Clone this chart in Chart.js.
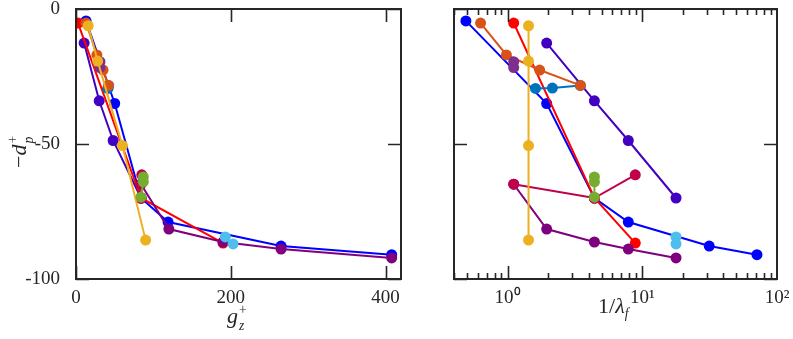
<!DOCTYPE html>
<html>
<head>
<meta charset="utf-8">
<script src="https://cdn.jsdelivr.net/npm/chart.js@4"></script>
<style>
  html, body { margin: 0; padding: 0; background: #fff; }
  #wrap { position: relative; width: 793px; height: 339px; overflow: hidden; }
  canvas { position: absolute; left: 0; top: 0; }
  .lab { position: absolute; font-family: "Liberation Serif", serif; color: #262626; font-size: 22px; white-space: nowrap; line-height: 1; }
  .ss { display: inline-flex; flex-direction: column; vertical-align: middle; font-size: 0.62em; line-height: 1.2; font-style: normal; margin-left: 1px; }
  .ss i { font-style: italic; }
</style>
</head>
<body>
<div id="wrap">
  <canvas id="left" width="793" height="339"></canvas>
  <canvas id="right" width="793" height="339"></canvas>
  <div class="lab" style="left:227px; top:302px;"><i>g</i><span class="ss"><span>+</span><i>z</i></span></div>
  <div class="lab" style="left:598px; top:295px;">1/<i>λ</i><sub style="font-size:0.62em;"><i>f</i></sub></div>
  <div class="lab" style="left:5px; top:168px; transform: rotate(-90deg); transform-origin: 0 0;">−<i>d</i><span class="ss"><span>+</span><i>p</i></span></div>
</div>
<script>
// depth -d_p^+ (shared y values), g_z^+ (left x), 1/lambda_f (right x)
const blueDp = [-4.4, -35, -70, -78.9, -87.8, -91];
const blueGz = [13, 50, 84, 119, 265, 408];
const blueInvLam = [0.49, 1.95, 4.41, 7.87, 31.4, 71];

const redDp = [-5.2, -70, -86.7];
const redGz = [2.6, 84, 190];
const redInvLam = [1.11, 4.41, 8.87];

const indigoDp = [-12.6, -34, -48.7, -70];
const indigoGz = [10.5, 30, 48, 84];
const indigoInvLam = [1.95, 4.41, 7.87, 17.8];

const orangeDp = [-5.2, -17, -22.6, -28.3];
const orangeGz = [13, 27, 35, 42];
const orangeInvLam = [0.63, 0.98, 1.73, 3.47];

const steelDp = [-29.4, -29.3, -28.3];
const steelGz = [41, 41.5, 42];
const steelInvLam = [1.61, 2.15, 3.47];

const yellowDp = [-6.2, -19.3, -50.6, -85.6];
const yellowGz = [15.7, 28, 60, 90];
const yellowInvLam = [1.43, 1.43, 1.43, 1.43];

const purpleDp = [-19.5, -21.7];
const purpleGz = [31, 31];
const purpleInvLam = [1.11, 1.11];

const crimsonDp = [-64.9, -70, -61.4];
const crimsonGz = [84, 84, 85];
const crimsonInvLam = [1.11, 4.41, 8.87];

const greenDp = [-62.2, -64, -69.7];
const greenGz = [87, 87, 84];
const greenInvLam = [4.41, 4.41, 4.41];

const plumDp = [-64.9, -81.5, -86.3, -88.9, -92.2];
const plumGz = [84, 120, 190, 265, 408];
const plumInvLam = [1.11, 1.95, 4.41, 7.87, 17.8];

const skyDp = [-84.4, -87];
const skyGz = [193, 203];
const skyInvLam = [17.8, 17.8];

const yTicks = [-100, -50, 0];
const gzTicks = [0, 200, 400];
const lamTicks = [1, 10, 100];
const lamLabels = ["10⁰", "10¹", "10²"];

// top-first drawing order
const series = [
  { color: "#4dbeee", dp: skyDp, gz: skyGz, lam: skyInvLam },
  { color: "#77ac30", dp: greenDp, gz: greenGz, lam: greenInvLam },
  { color: "#edb120", dp: yellowDp, gz: yellowGz, lam: yellowInvLam },
  { color: "#7e2f8e", dp: purpleDp, gz: purpleGz, lam: purpleInvLam },
  { color: "#d95319", dp: orangeDp, gz: orangeGz, lam: orangeInvLam },
  { color: "#0072bd", dp: steelDp, gz: steelGz, lam: steelInvLam },
  { color: "#c0004a", dp: crimsonDp, gz: crimsonGz, lam: crimsonInvLam },
  { color: "#7f007f", dp: plumDp, gz: plumGz, lam: plumInvLam },
  { color: "#ff0000", dp: redDp, gz: redGz, lam: redInvLam },
  { color: "#0000ff", dp: blueDp, gz: blueGz, lam: blueInvLam },
  { color: "#4200c2", dp: indigoDp, gz: indigoGz, lam: indigoInvLam },
];

const makeSets = (key) => series.map((s, i) => ({
  data: s[key].map((x, j) => ({ x, y: s.dp[j] })),
  borderColor: s.color,
  backgroundColor: s.color,
  pointBackgroundColor: s.color,
  pointBorderWidth: 0,
  pointRadius: 5.5,
  borderWidth: 2,
  order: i,
}));

const axisColor = "#262626";
const font = { family: "'Liberation Serif', serif", size: 19 };

// box outline and inward ticks, MATLAB style
const boxPlugin = {
  id: "box",
  afterDraw(chart, args, opts) {
    const { ctx, chartArea: a, scales } = chart;
    ctx.save();
    ctx.strokeStyle = axisColor;
    ctx.lineWidth = 2;
    ctx.strokeRect(a.left, a.top, a.right - a.left, a.bottom - a.top);
    ctx.lineWidth = 1.6;
    ctx.beginPath();
    opts.xTicks.forEach(([v, len]) => {
      const p = Math.round(scales.x.getPixelForValue(v)) + 0.5;
      ctx.moveTo(p, a.bottom); ctx.lineTo(p, a.bottom - len);
      ctx.moveTo(p, a.top); ctx.lineTo(p, a.top + len);
    });
    opts.yTicks.forEach(([v, len]) => {
      const p = Math.round(scales.y.getPixelForValue(v)) + 0.5;
      ctx.moveTo(a.left, p); ctx.lineTo(a.left + len, p);
      ctx.moveTo(a.right, p); ctx.lineTo(a.right - len, p);
    });
    ctx.stroke();
    ctx.restore();
  },
};

const minorLam = [];
[0.1, 1, 10].forEach((d) => {
  for (let k = 1; k <= 9; k++) {
    const v = +(k * d).toFixed(2);
    if (v >= 0.4 && v <= 100) minorLam.push([v, lamTicks.includes(v) ? 13 : 6]);
  }
});

const common = {
  responsive: false,
  animation: false,
  devicePixelRatio: 1,
  elements: { line: { tension: 0 } },
};

const fitY = (w) => (s) => { s.width = w; s.paddingTop = 0; s.paddingBottom = 0; };
const fitX = (s) => { s.height = 60; s.paddingLeft = 0; s.paddingRight = 0; };

new Chart(document.getElementById("left").getContext("2d"), {
  type: "line",
  data: { datasets: makeSets("gz") },
  plugins: [boxPlugin],
  options: {
    ...common,
    layout: { padding: { top: 9, right: 392, left: 0, bottom: 0 } },
    plugins: {
      legend: { display: false },
      tooltip: { enabled: false },
      box: { xTicks: gzTicks.map((v) => [v, 13]), yTicks: yTicks.map((v) => [v, 13]) },
    },
    scales: {
      x: {
        type: "linear", min: 0, max: 420,
        afterBuildTicks: (s) => { s.ticks = gzTicks.map((value) => ({ value })); },
        afterFit: fitX,
        grid: { display: false }, border: { display: false },
        ticks: { color: axisColor, font, padding: 0, maxRotation: 0, autoSkip: false, callback: (v) => String(v) },
      },
      y: {
        type: "linear", min: -100, max: 0,
        afterBuildTicks: (s) => { s.ticks = yTicks.map((value) => ({ value })); },
        afterFit: fitY(76),
        grid: { display: false }, border: { display: false },
        ticks: { color: axisColor, font, padding: 8, autoSkip: false, callback: (v) => String(v) },
      },
    },
  },
});

new Chart(document.getElementById("right").getContext("2d"), {
  type: "line",
  data: { datasets: makeSets("lam") },
  plugins: [boxPlugin],
  options: {
    ...common,
    layout: { padding: { top: 9, right: 16, left: 0, bottom: 0 } },
    plugins: {
      legend: { display: false },
      tooltip: { enabled: false },
      box: { xTicks: minorLam, yTicks: yTicks.map((v) => [v, 13]) },
    },
    scales: {
      x: {
        type: "logarithmic", min: 0.4, max: 100,
        afterBuildTicks: (s) => { s.ticks = lamTicks.map((value) => ({ value })); },
        afterFit: fitX,
        grid: { display: false }, border: { display: false },
        ticks: { color: axisColor, font, padding: 0, maxRotation: 0, autoSkip: false,
          callback: (v) => lamLabels[lamTicks.indexOf(v)] ?? "" },
      },
      y: {
        type: "linear", min: -100, max: 0,
        afterBuildTicks: (s) => { s.ticks = yTicks.map((value) => ({ value })); },
        afterFit: fitY(454),
        grid: { display: false }, border: { display: false },
        ticks: { display: false },
      },
    },
  },
});
</script>
</body>
</html>
